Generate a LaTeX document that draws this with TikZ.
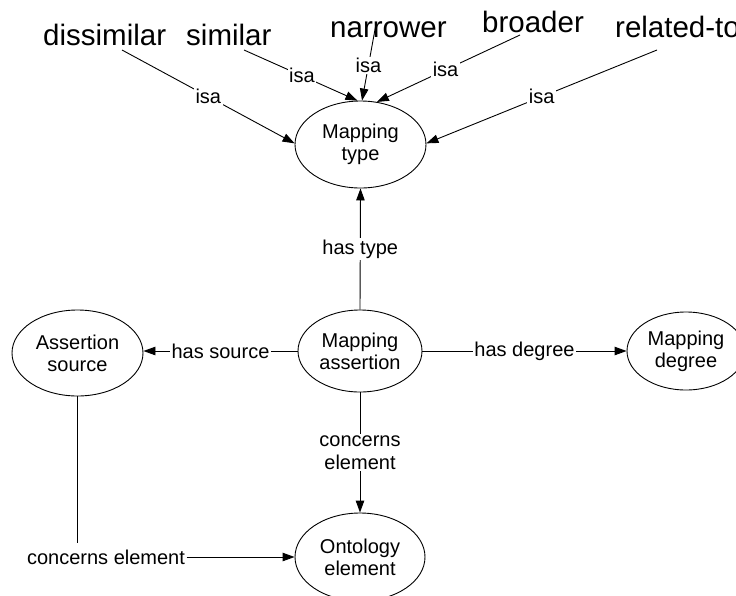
\documentclass[tikz,border=0pt]{standalone}
\usepackage{fontspec}
\setmainfont{Liberation Sans}
\usetikzlibrary{shapes.geometric,arrows.meta}
\begin{document}
\begin{tikzpicture}[x=1pt,y=-1pt,
  ent/.style={ellipse,draw,line width=0.9pt,inner sep=0pt,align=center,font=\fontsize{20}{22}\selectfont},
  word/.style={anchor=base west,inner sep=0pt,font=\fontsize{29.5}{32}\selectfont},
  lbl/.style={fill=white,inner sep=1.5pt,font=\fontsize{20}{22.5}\selectfont,align=center},
  conn/.style={line width=0.9pt},
  arr/.style={conn,-{Triangle[length=12pt,width=8.5pt]}}]
\useasboundingbox (0,0) rectangle (736,595);
\fill[white] (0,0) rectangle (736,595);

% entities
\node[ent,minimum width=131pt,minimum height=87pt] (mt) at (360.5,144.5) {Mapping\\type};
\node[ent,minimum width=124pt,minimum height=82pt] (ma) at (360,351) {Mapping\\assertion};
\node[ent,minimum width=131pt,minimum height=86pt] (as) at (77.5,353) {Assertion\\source};
\node[ent,minimum width=118pt,minimum height=78pt] (md) at (686,351) {Mapping\\degree};
\node[ent,minimum width=130pt,minimum height=88pt] (oe) at (360,557) {Ontology\\element};

% top words
\node[word] (wdis) at (43,45) {dissimilar};
\node[word] (wsim) at (186,45) {similar};
\node[word] (wnar) at (330,37) {narrower};
\node[word] (wbro) at (482,32) {broader};
\node[word] (wrel) at (615,37) {related-to};

\coordinate (sdis) at (122,50);
\coordinate (ssim) at (244,50);
\coordinate (snar) at (376,24);
\coordinate (sbro) at (520,35);
\coordinate (srel) at (657,50);

% isa edges
\draw[arr] (sdis) -- node[lbl,pos=0.5] {isa} (mt.179);
\draw[arr] (ssim) -- node[lbl,pos=0.51] {isa} (mt.94);
\draw[arr] (snar) -- node[lbl,pos=0.54] {isa} (mt.88);
\draw[arr] (sbro) -- node[lbl,pos=0.52] {isa} (mt.69);
\draw[arr] (srel) -- node[lbl,pos=0.5] {isa} (mt.1);

% other relations
\draw[arr] (ma.north) -- node[lbl] {has type} (mt.south);
\draw[arr] (ma.west) -- node[lbl] {has source} (as.east |- ma.west);
\draw[arr] (ma.east) -- node[lbl] {has degree} (md.west);
\draw[arr] (ma.south) -- node[lbl] {concerns\\element} (oe.north);

\node[lbl] (cel) at (106,557) {concerns element};
\coordinate (corner) at (as.south |- 0,543);
\draw[conn] (as.south) -- (corner);
\draw[arr] (cel.east) -- (oe.west);
\end{tikzpicture}
\end{document}
